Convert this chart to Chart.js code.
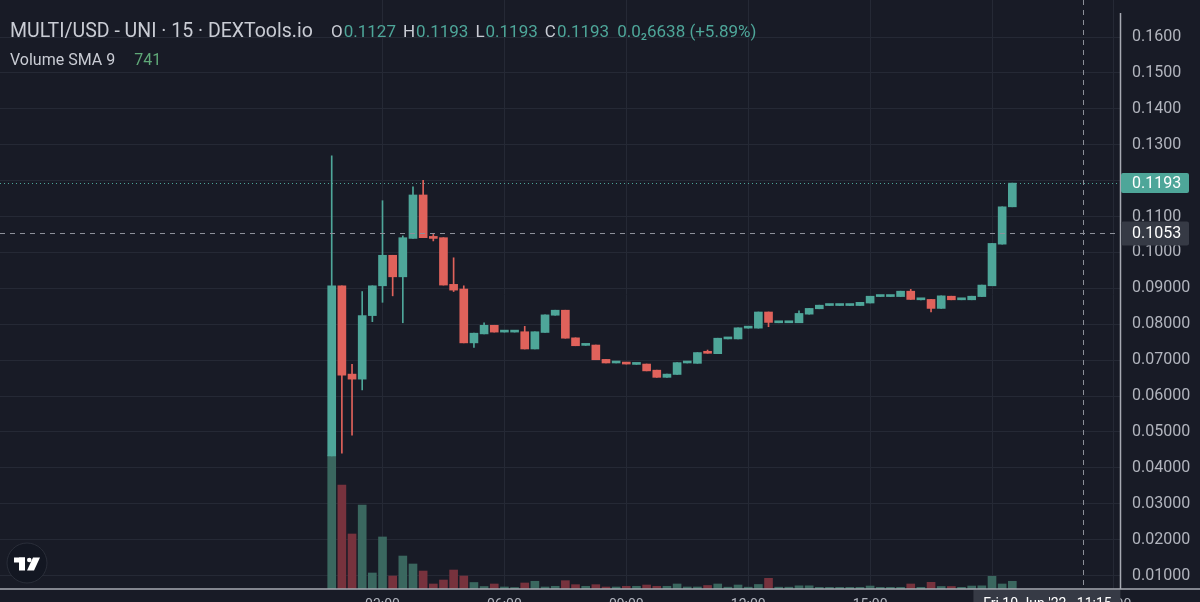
<!DOCTYPE html>
<html>
<head>
<meta charset="utf-8">
<script src="https://cdn.jsdelivr.net/npm/chart.js@4.4.0/dist/chart.umd.min.js"></script>
<style>
  html, body { margin: 0; padding: 0; background: #181b26; overflow: hidden; }
  #wrap { position: relative; width: 1200px; height: 602px; }
  #chart { position: absolute; left: 0; top: 0; }
  .legend { position: absolute; font-family: Roboto, sans-serif; white-space: nowrap; color: #c9ccd4; }
  .title { left: 10px; top: 19px; font-size: 19.5px; }
  .ohlc { left: 331px; top: 21px; font-size: 17px; }
  .ohlc .v { color: #4ea699; margin-left: 1px; margin-right: 7px; }
  .vol { left: 10px; top: 50px; font-size: 16px; }
  .vol .v { color: #5fa878; margin-left: 19px; }
</style>
</head>
<body>
<div id="wrap">
  <canvas id="chart" width="1200" height="602"></canvas>
  <div class="legend title">MULTI/USD - UNI · 15 · DEXTools.io</div>
  <div class="legend ohlc">O<span class="v">0.1127</span>H<span class="v">0.1193</span>L<span class="v">0.1193</span>C<span class="v">0.1193</span><span class="v">0.0₂6638 (+5.89%)</span></div>
  <div class="legend vol">Volume SMA 9<span class="v">741</span></div>
</div>
<script>
document.addEventListener('DOMContentLoaded', () => {
    // 15m candles
    const opens = [0.0433, 0.0907, 0.0661, 0.0647, 0.0824, 0.0907, 0.0992, 0.0932, 0.1039, 0.1160,
        0.1043, 0.1041, 0.0911, 0.0898, 0.0748, 0.0773, 0.0797, 0.0778, 0.0778, 0.0779,
        0.0731, 0.0777, 0.0825, 0.0839, 0.0762, 0.0741, 0.0742, 0.0702, 0.0692, 0.0691,
        0.0688, 0.0689, 0.0672, 0.0652, 0.0660, 0.0692, 0.0691, 0.0721, 0.0718, 0.0759,
        0.0759, 0.0789, 0.0789, 0.0834, 0.0804, 0.0804, 0.0804, 0.0828, 0.0843, 0.0852,
        0.0852, 0.0852, 0.0852, 0.0859, 0.0877, 0.0877, 0.0877, 0.0892, 0.0868, 0.0869,
        0.0844, 0.0878, 0.0868, 0.0868, 0.0877, 0.0907, 0.1023, 0.1127];
    const highs = [0.1269, 0.0907, 0.0688, 0.0891, 0.0907, 0.1144, 0.0992, 0.1046, 0.1183, 0.1201,
        0.1050, 0.1041, 0.0985, 0.0907, 0.0775, 0.0804, 0.0797, 0.0780, 0.0780, 0.0794,
        0.0779, 0.0826, 0.0839, 0.0839, 0.0762, 0.0743, 0.0742, 0.0702, 0.0694, 0.0691,
        0.0690, 0.0689, 0.0672, 0.0661, 0.0693, 0.0694, 0.0721, 0.0728, 0.0761, 0.0761,
        0.0790, 0.0791, 0.0834, 0.0834, 0.0806, 0.0806, 0.0837, 0.0844, 0.0853, 0.0854,
        0.0854, 0.0854, 0.0861, 0.0878, 0.0879, 0.0879, 0.0892, 0.0897, 0.0870, 0.0869,
        0.0879, 0.0878, 0.0870, 0.0878, 0.0909, 0.1025, 0.1127, 0.1193];
    const lows = [0.0433, 0.0441, 0.0491, 0.0617, 0.0807, 0.0861, 0.0879, 0.0804, 0.1039, 0.1041,
        0.1032, 0.0909, 0.0891, 0.0748, 0.0735, 0.0773, 0.0778, 0.0778, 0.0778, 0.0731,
        0.0731, 0.0777, 0.0825, 0.0761, 0.0740, 0.0741, 0.0701, 0.0692, 0.0692, 0.0689,
        0.0688, 0.0670, 0.0652, 0.0652, 0.0660, 0.0692, 0.0691, 0.0719, 0.0718, 0.0759,
        0.0759, 0.0789, 0.0789, 0.0793, 0.0804, 0.0804, 0.0804, 0.0828, 0.0843, 0.0852,
        0.0852, 0.0852, 0.0852, 0.0859, 0.0877, 0.0877, 0.0877, 0.0869, 0.0868, 0.0834,
        0.0844, 0.0868, 0.0868, 0.0868, 0.0877, 0.0907, 0.1023, 0.1127];
    const closes = [0.0907, 0.0658, 0.0647, 0.0824, 0.0907, 0.0992, 0.0932, 0.1041, 0.1160, 0.1041,
        0.1039, 0.0909, 0.0895, 0.0748, 0.0775, 0.0797, 0.0778, 0.0780, 0.0780, 0.0731,
        0.0779, 0.0826, 0.0839, 0.0761, 0.0740, 0.0743, 0.0701, 0.0692, 0.0694, 0.0689,
        0.0690, 0.0670, 0.0652, 0.0661, 0.0693, 0.0694, 0.0721, 0.0719, 0.0761, 0.0761,
        0.0790, 0.0791, 0.0834, 0.0805, 0.0806, 0.0806, 0.0830, 0.0844, 0.0853, 0.0854,
        0.0854, 0.0854, 0.0861, 0.0878, 0.0879, 0.0879, 0.0892, 0.0869, 0.0870, 0.0844,
        0.0879, 0.0868, 0.0870, 0.0878, 0.0909, 0.1025, 0.1127, 0.1193];
    const volumes = [19830, 15390, 8140, 12430, 2370, 7700, 1920, 4880, 3700, 2660,
        740, 1330, 2810, 1920, 960, 370, 740, 300, 220, 890,
        1140, 300, 400, 1230, 640, 400, 640, 300, 300, 400,
        400, 590, 400, 400, 740, 300, 300, 520, 740, 270,
        590, 270, 670, 1580, 270, 270, 470, 470, 250, 250,
        250, 250, 250, 440, 250, 250, 250, 740, 250, 990,
        370, 370, 250, 440, 470, 1880, 740, 1140];

    const priceTicks = [0.01, 0.02, 0.03, 0.04, 0.05, 0.06, 0.07, 0.08,
        0.09, 0.10, 0.11, 0.12, 0.13, 0.14, 0.15, 0.16];
    const timeTicks = [5, 17, 29, 41, 53, 65, 77];
    const timeLabels = ['03:00', '06:00', '09:00', '12:00', '15:00', '18:00', '21:00'];

    const lastPrice = 0.1193;
    const crossPrice = 0.1053;
    const crossIndex = 74;

    const upColor = '#4ea699';
    const downColor = '#e0625b';
    const upVol = '#3a675f';
    const downVol = '#77323d';

    const isUp = opens.map((o, i) => closes[i] >= o);

    const overlay = {
        id: 'overlay',
        afterDatasetsDraw(chart) {
            const { ctx, chartArea: a, scales: { x, y } } = chart;
            ctx.save();
            ctx.lineWidth = 1;

            // last price dotted line
            const yl = Math.round(y.getPixelForValue(lastPrice)) + 0.5;
            ctx.strokeStyle = upColor;
            ctx.setLineDash([1, 3]);
            ctx.beginPath();
            ctx.moveTo(a.left, yl);
            ctx.lineTo(a.right, yl);
            ctx.stroke();

            // crosshair
            const xc = Math.round(x.getPixelForValue(crossIndex)) + 0.5;
            const yc = Math.round(y.getPixelForValue(crossPrice)) + 0.5;
            ctx.strokeStyle = '#8d909a';
            ctx.setLineDash([5, 5]);
            ctx.beginPath();
            ctx.moveTo(xc, a.top);
            ctx.lineTo(xc, a.bottom);
            ctx.moveTo(a.left, yc);
            ctx.lineTo(a.right, yc);
            ctx.stroke();
            ctx.restore();
        },
        afterDraw(chart) {
            const { ctx, chartArea: a, scales: { x, y } } = chart;
            ctx.save();

            // axis borders
            ctx.strokeStyle = '#a7aab3';
            ctx.lineWidth = 1.5;
            ctx.beginPath();
            ctx.moveTo(0, a.bottom);
            ctx.lineTo(1200, a.bottom);
            ctx.moveTo(a.right + 0.5, 13);
            ctx.lineTo(a.right + 0.5, a.bottom);
            ctx.stroke();

            // price label boxes
            ctx.font = '16px Roboto, sans-serif';
            ctx.textBaseline = 'middle';
            ctx.textAlign = 'left';
            const yl = y.getPixelForValue(lastPrice);
            ctx.fillStyle = upColor;
            ctx.beginPath();
            ctx.roundRect(a.right + 1, yl - 10, 68, 20, 2);
            ctx.fill();
            ctx.fillStyle = '#ffffff';
            ctx.fillText(lastPrice.toFixed(4), a.right + 12, yl + 1);

            const yc = y.getPixelForValue(crossPrice);
            ctx.fillStyle = '#363a45';
            ctx.beginPath();
            ctx.roundRect(a.right + 1, yc - 12, 68, 24, 2);
            ctx.fill();
            ctx.fillStyle = '#ffffff';
            ctx.fillText(crossPrice.toFixed(4), a.right + 12, yc + 1);

            // time label box on the crosshair
            const xc = x.getPixelForValue(crossIndex);
            ctx.fillStyle = '#363a45';
            ctx.fillRect(xc - 110, a.bottom + 1, 147, 20);
            ctx.fillStyle = '#ffffff';
            ctx.textAlign = 'center';
            ctx.textBaseline = 'top';
            ctx.font = '14px Roboto, sans-serif';
            ctx.fillText("Fri 10 Jun '22   11:15", xc - 36, a.bottom + 8);

            // tv logo
            ctx.fillStyle = '#131722';
            ctx.strokeStyle = '#2a2e39';
            ctx.lineWidth = 1;
            ctx.beginPath();
            ctx.arc(27, 563, 20, 0, Math.PI * 2);
            ctx.fill();
            ctx.stroke();
            ctx.fillStyle = '#ffffff';
            ctx.fillRect(14, 557.5, 11, 5);
            ctx.fillRect(19, 557.5, 6, 13);
            ctx.beginPath();
            ctx.arc(29.3, 560, 2.3, 0, Math.PI * 2);
            ctx.fill();
            ctx.beginPath();
            ctx.moveTo(33, 557.5);
            ctx.lineTo(40, 557.5);
            ctx.lineTo(34, 570.5);
            ctx.lineTo(27, 570.5);
            ctx.closePath();
            ctx.fill();

            ctx.restore();
        }
    };

    const ctx = document.getElementById('chart').getContext('2d');
    new Chart(ctx, {
        type: 'bar',
        data: {
            datasets: [
                {
                    label: 'body',
                    data: opens.map((o, i) => ({ x: i, y: [o, closes[i]] })),
                    backgroundColor: isUp.map(u => u ? upColor : downColor),
                    barThickness: 8,
                    minBarLength: 2,
                    grouped: false,
                    order: 1
                },
                {
                    label: 'wick',
                    data: lows.map((l, i) => ({ x: i, y: [l, highs[i]] })),
                    backgroundColor: isUp.map(u => u ? upColor : downColor),
                    barThickness: 1,
                    grouped: false,
                    order: 2
                },
                {
                    label: 'volume',
                    data: volumes.map((v, i) => ({ x: i, y: v })),
                    backgroundColor: isUp.map(u => u ? upVol : downVol),
                    barThickness: 8,
                    grouped: false,
                    yAxisID: 'yv',
                    order: 3
                }
            ]
        },
        options: {
            responsive: false,
            animation: false,
            layout: { padding: 0, autoPadding: false },
            plugins: { legend: { display: false }, tooltip: { enabled: false } },
            scales: {
                x: {
                    type: 'linear',
                    offset: false,
                    min: -32.655,
                    max: 77.6,
                    afterBuildTicks: s => { s.ticks = timeTicks.map(v => ({ value: v })); },
                    afterFit: s => {
                        s.height = 13;
                        s.paddingLeft = 0;
                        s.paddingRight = 0;
                    },
                    grid: { color: '#252935', drawTicks: false, tickLength: 0, offset: false },
                    border: { display: false },
                    ticks: {
                        color: '#b2b5be',
                        font: { family: 'Roboto', size: 14 },
                        padding: 8,
                        maxRotation: 0,
                        autoSkip: false,
                        callback: v => timeLabels[timeTicks.indexOf(v)]
                    }
                },
                y: {
                    position: 'right',
                    min: 0.00624,
                    max: 0.17031,
                    afterBuildTicks: s => { s.ticks = priceTicks.map(v => ({ value: v })); },
                    afterFit: s => {
                        s.width = 80;
                        s.paddingTop = 0;
                        s.paddingBottom = 0;
                    },
                    grid: { color: '#252935', drawTicks: false, tickLength: 0 },
                    border: { display: false },
                    ticks: {
                        color: '#b2b5be',
                        font: { family: 'Roboto', size: 16 },
                        padding: 12,
                        callback: v => v >= 0.0999 ? v.toFixed(4) : v.toFixed(5)
                    }
                },
                yv: {
                    display: false,
                    min: 0,
                    max: 87170
                }
            }
        },
        plugins: [overlay]
    });
});
</script>
</body>
</html>
